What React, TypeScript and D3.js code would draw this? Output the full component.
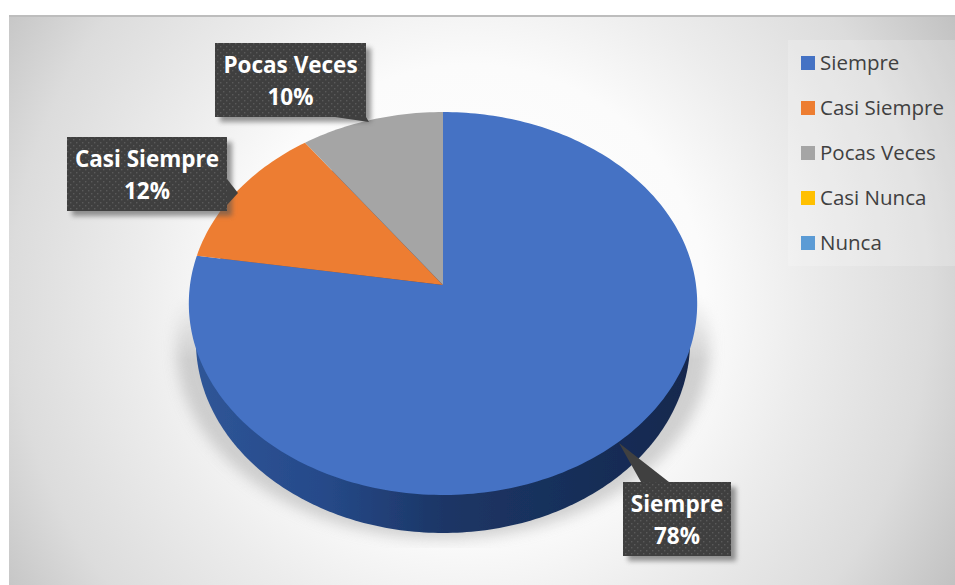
import React from "react";
import * as d3 from "d3";

const categories = ["Siempre", "Casi Siempre", "Pocas Veces", "Casi Nunca", "Nunca"];
const values = [77.51, 12.49, 10, 0, 0];
const colors = ["#4472c4", "#ed7d31", "#a5a5a5", "#ffc000", "#5b9bd5"];

const W = 955, H = 585;
const cx = 443, cy = 285, S = 253, T = 189.7, P = -0.0966, DEPTH = 38;

// Tilted-disc projection of a point at pie angle a (radians, clockwise from top)
function rim(a: number): [number, number] {
  const u = Math.sin(a), v = -Math.cos(a);
  const d = 1 + P * v;
  return [cx + (S * u) / d, cy + (T * v) / d];
}

function slicePath(a0: number, a1: number) {
  const n = Math.max(2, Math.ceil((a1 - a0) / 0.02));
  const pts: [number, number][] = [[cx, cy]];
  d3.range(n + 1).forEach((i) => pts.push(rim(a0 + ((a1 - a0) * i) / n)));
  return d3.line()(pts) + "Z";
}

function discOutline(dy: number, sx: number) {
  const pts = d3.range(361).map((i) => {
    const p = rim((i / 180) * Math.PI);
    return [cx + (p[0] - cx) * sx, p[1] + dy] as [number, number];
  });
  return d3.line()(pts) + "Z";
}

const FONT_LABEL = "700 22.5px 'Open Sans'";
const FONT_LEGEND = "400 20.5px 'Open Sans'";

export default function App() {
  const pie = d3.pie<number>().sort(null).startAngle(0).endAngle(2 * Math.PI);
  const arcs = pie(values);
  const total = d3.sum(values);
  const pctFmt = d3.format(".0%");

  const callouts = [
    { i: 0, x: 623, y: 482, w: 108, h: 74, tail: [[641, 482], [619, 443], [669, 482]] },
    { i: 1, x: 67, y: 137, w: 160, h: 74, tail: [[227, 179], [238, 193], [227, 205]] },
    { i: 2, x: 215, y: 43, w: 151, h: 74, tail: [[335, 117], [369, 122], [366, 117]] },
  ];

  return (
    <svg width={W} height={H} style={{ position: "absolute", left: 0, top: 0 }}>
      <defs>
        <radialGradient id="bg" gradientUnits="userSpaceOnUse" cx={470} cy={300} r={560}>
          <stop offset="0" stopColor="#ffffff" />
          <stop offset="0.42" stopColor="#fbfbfb" />
          <stop offset="0.6" stopColor="#ececec" />
          <stop offset="0.82" stopColor="#dcdcdc" />
          <stop offset="1" stopColor="#c2c2c2" />
        </radialGradient>
        <linearGradient id="side" x1="0" x2="1" y1="0" y2="0">
          <stop offset="0" stopColor="#2f5597" />
          <stop offset="0.25" stopColor="#264a8a" />
          <stop offset="0.5" stopColor="#1c3666" />
          <stop offset="0.75" stopColor="#182f5a" />
          <stop offset="1" stopColor="#14284e" />
        </linearGradient>
        <linearGradient id="shadowFade" gradientUnits="userSpaceOnUse" x1="0" x2="0" y1="295" y2="360">
          <stop offset="0" stopColor="#fff" stopOpacity="0" />
          <stop offset="1" stopColor="#fff" stopOpacity="1" />
        </linearGradient>
        <mask id="shadowMask" maskUnits="userSpaceOnUse" x="0" y="0" width={W} height={H}>
          <rect x={0} y={295} width={W} height={253} fill="url(#shadowFade)" />
        </mask>
        <filter id="blur" x="-20%" y="-20%" width="140%" height="140%">
          <feGaussianBlur stdDeviation="7" />
        </filter>
        <filter id="soft" x="-5%" y="-5%" width="110%" height="110%">
          <feGaussianBlur stdDeviation="0.5" />
        </filter>
        <filter id="blurS" x="-20%" y="-20%" width="140%" height="140%">
          <feGaussianBlur stdDeviation="2.5" />
        </filter>
        <pattern id="dots" width="6" height="6" patternUnits="userSpaceOnUse">
          <rect width="6" height="6" fill="#3f3f3f" />
          <rect x="1" y="1" width="1.4" height="1.4" fill="#5a5a5a" />
          <rect x="4" y="4" width="1.4" height="1.4" fill="#5a5a5a" />
        </pattern>
      </defs>
      <rect width={W} height={H} fill="#ffffff" />
      <rect x={9} y={15} width={W - 9} height={H - 15} fill="url(#bg)" />
      <rect x={9} y={15} width={W - 9} height={2} fill="#bdbdbd" />

      <g mask="url(#shadowMask)">
        <path d={discOutline(DEPTH + 6, 1.05)} fill="#bdbdbd" opacity={0.7} filter="url(#blur)" />
      </g>
      <g filter="url(#soft)">
        <path d={discOutline(DEPTH, 0.972)} fill="url(#side)" />
        {arcs.filter((a) => a.value > 0).map((a, i) => (
          <path key={i} d={slicePath(a.startAngle, a.endAngle)} fill={colors[i]} />
        ))}
      </g>

      {callouts.map((c) => (
        <g key={c.i}>
          <rect x={c.x + 5} y={c.y + 5} width={c.w} height={c.h} fill="#555" opacity={0.6} filter="url(#blurS)" />
          <path d={d3.line()(c.tail as [number, number][]) + "Z"} fill="#404040" />
          <rect x={c.x} y={c.y} width={c.w} height={c.h} fill="url(#dots)" />
          <text x={c.x + c.w / 2} y={c.y + 30} textAnchor="middle" fill="#fff" style={{ font: FONT_LABEL }}>
            {categories[c.i]}
          </text>
          <text x={c.x + c.w / 2} y={c.y + 62} textAnchor="middle" fill="#fff" style={{ font: FONT_LABEL }}>
            {pctFmt(values[c.i] / total)}
          </text>
        </g>
      ))}

      <rect x={788} y={40} width={167} height={226} fill="#ffffff" opacity={0.2} />
      {categories.map((c, i) => (
        <g key={c}>
          <rect x={801} y={56 + i * 45} width={14} height={14} fill={colors[i]} />
          <text x={820} y={70 + i * 45} fill="#404040" style={{ font: FONT_LEGEND }}>{c}</text>
        </g>
      ))}
    </svg>
  );
}
